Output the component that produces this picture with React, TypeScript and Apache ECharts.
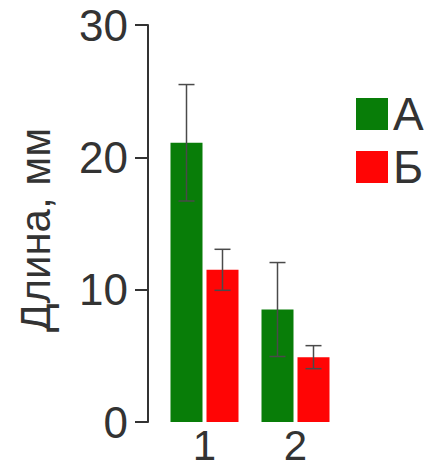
import React, { useEffect, useRef } from "react";
import * as echarts from "echarts";

const categories = ["1", "2"];
const seriesNames = ["А", "Б"];
const valuesA = [21.1, 8.5];
const valuesB = [11.5, 4.9];
const errorsA = [4.4, 3.55];
const errorsB = [1.55, 0.87];
const yTicks = [0, 10, 20, 30];
const axisName = "Длина, мм";

const FONT = "'Liberation Sans', Arial, sans-serif";
const GREEN = "#087d08";
const RED = "#ff0505";

function errorSeries(values: number[], errs: number[], offset: number) {
  return {
    type: "custom",
    silent: true,
    z: 10,
    data: values.map((v, i) => [i, v - errs[i], v + errs[i]]),
    encode: { x: 0, y: [1, 2] },
    renderItem: (params: any, api: any) => {
      const x = api.value(0);
      const lo = api.coord([x, api.value(1)]);
      const hi = api.coord([x, api.value(2)]);
      const cx = lo[0] + offset;
      const cap = 8;
      const style = { stroke: "#4a4a4a", lineWidth: 1.5 };
      return {
        type: "group",
        children: [
          { type: "line", shape: { x1: cx, y1: hi[1], x2: cx, y2: lo[1] }, style },
          { type: "line", shape: { x1: cx - cap, y1: hi[1], x2: cx + cap, y2: hi[1] }, style },
          { type: "line", shape: { x1: cx - cap, y1: lo[1], x2: cx + cap, y2: lo[1] }, style },
        ],
      };
    },
  };
}

export default function App() {
  const ref = useRef<HTMLDivElement>(null);
  useEffect(() => {
    if (!ref.current) return;
    const chart = echarts.init(ref.current, null, { renderer: "svg" });
    chart.setOption({
      animation: false,
      backgroundColor: "#ffffff",
      textStyle: { fontFamily: FONT },
      grid: { left: 159, right: 99, top: 25, bottom: 47 },
      legend: {
        data: seriesNames,
        orient: "vertical",
        left: 356,
        top: 91,
        padding: 0,
        itemWidth: 32,
        itemHeight: 32,
        itemGap: 7,
        icon: "rect",
        textStyle: { fontSize: 46, color: "#333333", fontFamily: FONT },
      },
      xAxis: {
        type: "category",
        data: categories,
        axisLine: { show: false },
        axisTick: { show: false },
        axisLabel: { fontSize: 42, color: "#333333", margin: 5, lineHeight: 36, fontFamily: FONT },
      },
      yAxis: {
        type: "value",
        min: yTicks[0],
        max: yTicks[yTicks.length - 1],
        interval: 10,
        offset: 11,
        name: axisName,
        nameLocation: "middle",
        nameGap: 92,
        nameTextStyle: { fontSize: 42, color: "#333333", fontFamily: FONT, padding: [0, 13, 0, 0] },
        axisLine: { show: true, lineStyle: { color: "#333333", width: 2 } },
        axisTick: { show: true, length: 13, lineStyle: { color: "#333333", width: 2 } },
        axisLabel: { fontSize: 44, color: "#333333", margin: 20, fontFamily: FONT },
        splitLine: { show: false },
      },
      series: [
        {
          name: seriesNames[0],
          type: "bar",
          data: valuesA,
          barWidth: 32,
          barGap: "12.5%",
          itemStyle: { color: GREEN },
        },
        {
          name: seriesNames[1],
          type: "bar",
          data: valuesB,
          barWidth: 32,
          barGap: "12.5%",
          itemStyle: { color: RED },
        },
        errorSeries(valuesA, errorsA, -18),
        errorSeries(valuesB, errorsB, 18),
      ],
    });
    return () => chart.dispose();
  }, []);
  return <div ref={ref} style={{ width: 440, height: 469, position: "absolute", left: 0, top: 0 }} />;
}
